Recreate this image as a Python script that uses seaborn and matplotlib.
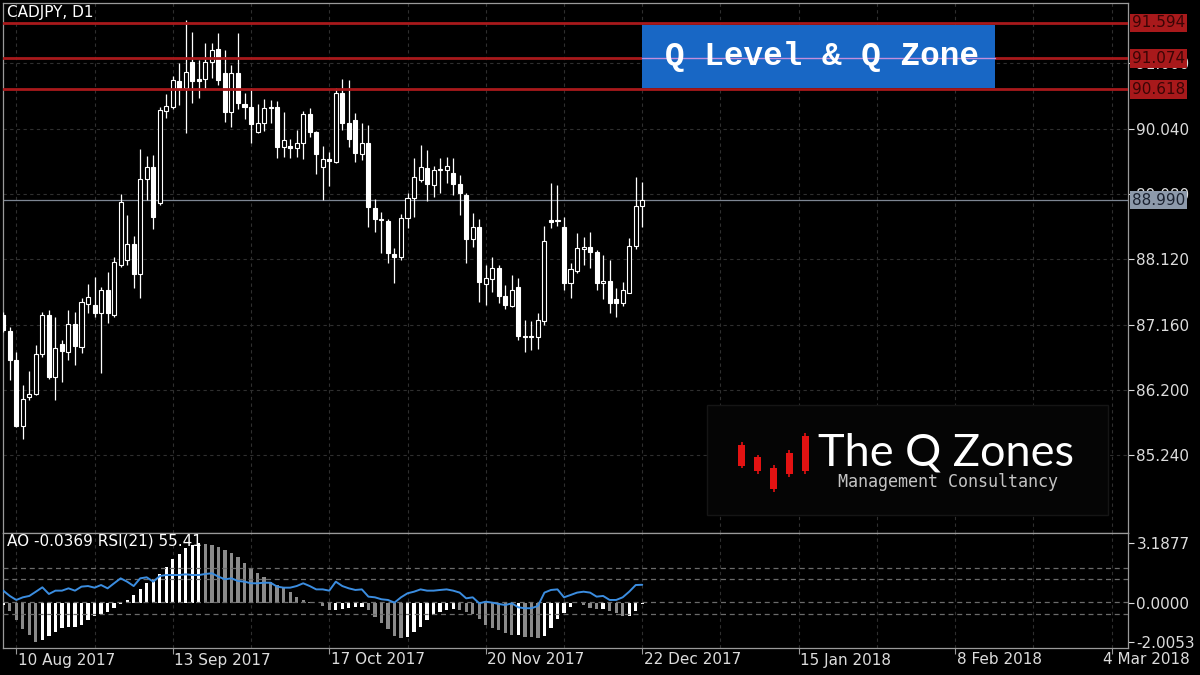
import numpy as np
import pandas as pd
import matplotlib
matplotlib.use("Agg")
import matplotlib.pyplot as plt
import matplotlib.transforms as mtransforms
from matplotlib.patches import Rectangle
import seaborn as sns

# ---------------- data ----------------
symbol_title = "CADJPY, D1"
indicator_title = "AO -0.0369 RSI(21) 55.41"
first_bar = -2  # bar index of the first visible candle (10 Aug 2017 = 0)

opens = [87.300, 87.064, 86.638, 85.667, 86.094, 86.138, 86.726, 87.300, 86.388, 86.873,
         86.756, 87.167, 86.830, 87.462, 87.447, 87.329, 87.667, 87.300, 88.035, 88.109,
         88.339, 87.903, 89.295, 89.471, 88.952, 90.300, 90.363, 90.741, 90.633, 91.025,
         90.770, 90.770, 91.025, 91.207, 90.854, 90.290, 90.854, 90.403, 90.354, 89.986,
         90.118, 90.363, 90.363, 89.765, 89.790, 89.750, 89.834, 90.255, 89.996, 89.481,
         89.589, 89.554, 90.569, 90.118, 90.167, 89.667, 89.834, 88.878, 88.712, 88.687,
         88.197, 88.158, 88.721, 89.025, 89.285, 89.457, 89.211, 89.437, 89.432, 89.383,
         89.221, 89.064, 88.412, 88.589, 87.755, 87.824, 87.986, 87.579, 87.432, 87.716,
         86.986, 86.976, 86.981, 87.216, 88.697, 88.678, 88.599, 87.775, 87.952, 88.265,
         88.305, 88.221, 87.775, 87.805, 87.530, 87.471, 87.628, 88.314, 88.903]
highs = [87.340, 87.128, 86.756, 86.270, 86.476, 86.858, 87.344, 87.373, 87.270, 86.932,
         87.373, 87.344, 87.550, 87.756, 87.859, 87.710, 87.932, 88.153, 89.074, 88.770,
         88.461, 89.736, 89.643, 89.653, 90.363, 90.545, 90.815, 91.000, 91.638, 91.466,
         91.050, 91.295, 91.295, 91.442, 91.197, 90.976, 91.452, 90.560, 90.633, 90.398,
         90.471, 90.461, 90.447, 90.290, 89.883, 90.020, 90.300, 90.339, 90.000, 89.785,
         89.702, 90.633, 90.765, 90.756, 90.275, 90.118, 90.093, 89.000, 88.819, 88.707,
         88.280, 88.785, 89.099, 89.604, 89.800, 89.726, 89.491, 89.604, 89.628, 89.604,
         89.358, 89.099, 88.805, 88.707, 88.035, 88.158, 88.035, 87.741, 87.888, 87.839,
         87.226, 87.216, 87.334, 88.609, 89.236, 89.211, 88.746, 88.060, 88.500, 88.451,
         88.515, 88.256, 88.182, 88.109, 87.692, 87.790, 88.427, 89.324, 89.260]
lows = [87.050, 86.344, 85.650, 85.476, 86.050, 86.120, 86.682, 86.358, 86.050, 86.314,
        86.638, 86.564, 86.740, 87.329, 87.270, 86.447, 87.180, 87.270, 88.010, 88.035,
        87.692, 87.545, 88.991, 88.565, 88.917, 90.202, 90.324, 90.388, 89.981, 90.412,
        90.486, 90.623, 90.780, 90.682, 90.143, 90.070, 90.324, 90.177, 89.834, 89.970,
        90.010, 90.128, 89.613, 89.628, 89.604, 89.628, 89.589, 89.922, 89.368, 88.991,
        89.197, 89.539, 90.020, 89.775, 89.554, 89.579, 88.589, 88.525, 88.207, 88.060,
        87.775, 88.109, 88.574, 88.746, 89.260, 88.981, 89.030, 89.089, 89.236, 89.064,
        88.771, 88.060, 88.295, 87.496, 87.447, 87.643, 87.471, 87.383, 87.422, 86.932,
        86.760, 86.785, 86.795, 87.153, 88.574, 88.609, 87.667, 87.545, 87.912, 88.035,
        87.986, 87.667, 87.530, 87.334, 87.275, 87.432, 87.618, 88.265, 88.599]
closes = [87.080, 86.638, 85.667, 86.064, 86.138, 86.726, 87.300, 86.388, 86.814, 86.770,
          87.167, 86.844, 87.491, 87.564, 87.329, 87.667, 87.329, 88.079, 88.966, 88.339,
          87.903, 89.295, 89.481, 88.746, 90.314, 90.373, 90.756, 90.633, 90.868, 90.746,
          90.746, 91.025, 91.197, 90.756, 90.290, 90.863, 90.412, 90.363, 90.104, 90.118,
          90.349, 90.349, 89.775, 89.873, 89.760, 89.834, 90.255, 89.996, 89.662, 89.589,
          89.564, 90.569, 90.118, 89.883, 89.677, 89.834, 88.883, 88.712, 88.697, 88.207,
          88.148, 88.721, 89.025, 89.324, 89.481, 89.226, 89.432, 89.447, 89.496, 89.226,
          89.099, 88.412, 88.599, 87.790, 87.839, 87.986, 87.579, 87.447, 87.667, 86.991,
          86.976, 86.986, 87.226, 88.393, 88.668, 88.688, 87.775, 87.976, 88.290, 88.305,
          88.231, 87.775, 87.805, 87.471, 87.471, 87.667, 88.319, 88.907, 88.990]

ao_values = [-0.10, -0.40, -0.86, -1.35, -1.65, -2.0053, -1.90, -1.70, -1.47, -1.30,
             -1.25, -1.21, -1.13, -0.86, -0.65, -0.55, -0.43, -0.25, -0.03, 0.18,
             0.44, 0.74, 1.05, 1.27, 1.53, 1.93, 2.31, 2.59, 2.89, 3.06,
             3.1877, 3.12, 3.06, 2.98, 2.80, 2.66, 2.45, 2.14, 1.84, 1.58,
             1.40, 1.14, 0.97, 0.79, 0.62, 0.36, 0.18, 0.10, 0.01, -0.13,
             -0.34, -0.32, -0.31, -0.25, -0.20, -0.17, -0.34, -0.69, -1.04, -1.35,
             -1.70, -1.82, -1.77, -1.47, -1.21, -0.86, -0.60, -0.43, -0.34, -0.31,
             -0.34, -0.43, -0.57, -0.83, -1.13, -1.30, -1.39, -1.56, -1.65, -1.64,
             -1.74, -1.77, -1.82, -1.70, -1.30, -0.83, -0.48, -0.17, 0.05, -0.08,
             -0.25, -0.31, -0.30, -0.37, -0.52, -0.65, -0.63, -0.37, -0.0369]

rsi_values = [50.3, 45.7, 42.2, 44.5, 45.7, 49.4, 53.2, 47.4, 50.3, 50.3,
              52.3, 50.3, 53.8, 54.3, 52.9, 55.2, 52.3, 56.7, 61.0, 58.1,
              54.3, 61.0, 61.9, 58.1, 63.0, 63.9, 63.9, 63.9, 64.5, 63.9,
              63.9, 64.8, 65.4, 62.5, 60.2, 61.0, 58.7, 58.1, 56.7, 56.7,
              57.2, 57.2, 53.8, 52.9, 52.9, 54.3, 56.7, 54.3, 51.4, 51.4,
              50.3, 58.1, 54.3, 52.3, 50.9, 51.4, 45.1, 44.5, 42.8, 42.2,
              39.9, 44.5, 48.0, 49.4, 51.4, 50.3, 50.3, 50.9, 51.4, 50.3,
              48.6, 43.6, 44.5, 39.3, 40.7, 39.9, 38.7, 37.8, 39.3, 35.8,
              35.0, 35.0, 37.0, 48.6, 50.9, 51.4, 44.5, 46.5, 48.6, 49.4,
              48.6, 45.1, 45.7, 42.2, 42.2, 44.5, 49.4, 55.2, 55.41]

price_ticks = [91.000, 90.040, 89.080, 88.120, 87.160, 86.200, 85.240]
ao_ticks = [3.1877, 0.0, -2.0053]
ao_tick_labels = ["3.1877", "0.0000", "-2.0053"]
q_levels = [91.594, 91.074, 90.618]
current_price = 88.990
rsi_levels = [70, 60, 40, 30]
date_tick_bars = [0, 24, 48, 72, 96, 120, 144, 168]
date_tick_labels = ["10 Aug 2017", "13 Sep 2017", "17 Oct 2017", "20 Nov 2017",
                    "22 Dec 2017", "15 Jan 2018", "8 Feb 2018", "4 Mar 2018"]
banner_text = "Q Level & Q Zone"
logo_title = "The Q Zones"
logo_subtitle = "Management Consultancy"
logo_body_low = [29, 24, 6, 21, 24]
logo_body_high = [50, 38, 27, 42, 59]
logo_wick_low = [27, 21, 3, 18, 21]
logo_wick_high = [53, 40, 30, 45, 62]

# ---------------- style ----------------
sns.set_theme(style="dark", rc={"axes.facecolor": "black", "figure.facecolor": "black"})
plt.rcParams["font.family"] = ["DejaVu Sans"]

W, H = 1200, 675
fig = plt.figure(figsize=(12, 6.75), dpi=100, facecolor="black")

def fx(px):
    return px / W

def fy(py):
    return 1 - py / H

ax = fig.add_axes([fx(3), fy(533), fx(1128) - fx(3), fy(3) - fy(533)])
ax2 = fig.add_axes([fx(3), fy(648), fx(1128) - fx(3), fy(533) - fy(648)], sharex=ax)
ax3 = ax2.twinx()

frame_col = "#9a9a9a"
label_col = "#dcdcdc"
grid_col = "#2f2f2f"
tick_fs = 11

for a in (ax, ax2):
    a.set_facecolor("black")
    for s in a.spines.values():
        s.set_color(frame_col)
        s.set_linewidth(0.9)
    a.grid(False)

df = pd.DataFrame({"bar": np.arange(first_bar, first_bar + len(opens)),
                   "open": opens, "high": highs, "low": lows, "close": closes,
                   "ao": ao_values, "rsi": rsi_values})

ax.set_xlim(-2.04, 170.5)
ax.set_ylim(84.094, 91.888)

# grid
for b in range(0, 170, 12):
    ax.axvline(b, color=grid_col, lw=0.8, ls=(0, (3, 3)), zorder=1)
    ax2.axvline(b, color=grid_col, lw=0.8, ls=(0, (3, 3)), zorder=1)
for p in price_ticks:
    ax.axhline(p, color=grid_col, lw=0.8, ls=(0, (3, 3)), zorder=1)

# candles
bull = df["close"] >= df["open"]
ax.vlines(df["bar"], df["low"], df["high"], color="white", lw=0.9, zorder=3)
body_bottom = np.minimum(df["open"], df["close"])
body_h = np.maximum((df["close"] - df["open"]).abs(), 0.015)
ax.bar(df["bar"][bull], body_h[bull], bottom=body_bottom[bull], width=0.62,
       facecolor="black", edgecolor="white", linewidth=0.8, zorder=4)
ax.bar(df["bar"][~bull], body_h[~bull], bottom=body_bottom[~bull], width=0.62,
       facecolor="white", edgecolor="white", linewidth=0.8, zorder=4)

# current price line
ax.axhline(current_price, color="#7d8693", lw=0.9, zorder=2)
# Q levels
for lvl in q_levels:
    ax.axhline(lvl, color="#a8191b", lw=2.0, zorder=5)

# right axis ticks
ax.yaxis.tick_right()
ax.set_yticks(price_ticks)
ax.set_yticklabels([f"{p:.3f}" for p in price_ticks])
ax.tick_params(axis="y", colors=label_col, labelsize=tick_fs, length=4, width=0.8,
               direction="out", pad=2, right=True, left=False, labelright=True, labelleft=False)
ax.tick_params(axis="x", bottom=False, labelbottom=False, length=0)

# label boxes on the right
for lvl in q_levels:
    ax.annotate(f"{lvl:.3f}", xy=(1, lvl), xycoords=("axes fraction", "data"),
                xytext=(3, 0), textcoords="offset points", ha="left", va="center",
                fontsize=tick_fs, color="#3a0505", zorder=20, annotation_clip=False,
                bbox=dict(boxstyle="square,pad=0.12", fc="#a8191b", ec="none"))
ax.annotate(f"{current_price:.3f}", xy=(1, current_price), xycoords=("axes fraction", "data"),
            xytext=(3, 0), textcoords="offset points", ha="left", va="center",
            fontsize=tick_fs, color="#1b2230", zorder=20, annotation_clip=False,
            bbox=dict(boxstyle="square,pad=0.12", fc="#8d9aab", ec="none"))

# title
fig.text(fx(7), fy(13), symbol_title, ha="left", va="center", fontsize=11, color="white")

# banner
ax.add_patch(Rectangle((fx(642), fy(88)), fx(995) - fx(642), fy(25) - fy(88),
                       transform=fig.transFigure, fc="#1867c5", ec="none", zorder=10,
                       clip_on=False))
btrans = mtransforms.blended_transform_factory(fig.transFigure, ax.transData)
ax.plot([fx(642), fx(995)], [q_levels[1], q_levels[1]], transform=btrans,
        color="#c48fdc", lw=1.0, zorder=11, clip_on=False)
ax.text(fx(822), fy(57), banner_text, transform=fig.transFigure, ha="center", va="center",
        fontfamily="Liberation Mono", fontweight="bold", fontsize=23.5, color="white", zorder=12)

# lower panel: AO histogram
ao_arr = df["ao"].to_numpy()
rising = np.r_[True, ao_arr[1:] > ao_arr[:-1]]
ao_colors = np.where(rising, "#ffffff", "#8a8a8a")
ax2.bar(df["bar"], df["ao"], width=0.5, color=ao_colors, edgecolor="none", zorder=3)
ax2.set_ylim(-2.33, 3.691)
ax2.set_xticks(date_tick_bars)
ax2.set_xticklabels([])
ax2.tick_params(axis="x", colors=frame_col, length=4, width=0.8, direction="out",
                bottom=True, labelbottom=False)
ax2.set_xlim(-2.04, 170.5)

# RSI on twin axis
ax3.set_ylim(0.43, 100.43)
for lvl in rsi_levels:
    ax3.axhline(lvl, color="#6b6b6b", lw=0.9, ls=(0, (4, 3)), zorder=2)
sns.lineplot(x=df["bar"], y=df["rsi"], ax=ax3, color="#3b8de0", lw=1.4, zorder=4)
ax3.set_yticks([])
ax3.tick_params(axis="y", left=False, right=False, labelleft=False, labelright=False)
ax3.set_ylabel("")
ax3.set_xlabel("")
for s in ax3.spines.values():
    s.set_visible(False)
ax3.grid(False)

# AO axis labels on the right (after twinx)
ax2.yaxis.tick_right()
ax2.set_yticks(ao_ticks)
ax2.set_yticklabels(ao_tick_labels)
ax2.tick_params(axis="y", colors=label_col, labelsize=tick_fs, length=4, width=0.8,
                direction="out", pad=2, right=True, left=False, labelright=True, labelleft=False)
ax2.set_xlabel("")
ax2.set_ylabel("")
ax.set_xlabel("")
ax.set_ylabel("")

fig.text(fx(7), fy(541), indicator_title, ha="left", va="center", fontsize=11, color="white")

# date labels
for b, lab in zip(date_tick_bars, date_tick_labels):
    off = 1.5 if b != date_tick_bars[-1] else -9
    ax2.annotate(lab, xy=(b, 0), xycoords=("data", "axes fraction"),
                 xytext=(off, -12), textcoords="offset pixels", ha="left", va="center",
                 fontsize=tick_fs, color=label_col, annotation_clip=False)

# logo
logo_box = Rectangle((fx(707), fy(515)), fx(1108) - fx(707), fy(405) - fy(515),
                     transform=fig.transFigure, fc="#050505", ec="#151515", lw=1, zorder=1)
fig.patches.append(logo_box)
axl = fig.add_axes([fx(734), fy(495), fx(813) - fx(734), fy(430) - fy(495)])
axl.set_zorder(5)
axl.patch.set_visible(False)
axl.set_xlim(-0.5, 4.5)
axl.set_ylim(0, 65)
axl.axis("off")
xs = np.arange(len(logo_body_low))
axl.vlines(xs, logo_wick_low, logo_wick_high, color="#e31212", lw=1.2)
axl.bar(xs, np.array(logo_body_high) - np.array(logo_body_low), bottom=logo_body_low,
        width=0.45, color="#e31212", edgecolor="none")
fig.text(fx(818), fy(465), logo_title, ha="left", va="baseline", fontsize=32.5,
         fontfamily="Lato", fontweight="normal", color="white", zorder=6)
fig.text(fx(948), fy(487), logo_subtitle, ha="center", va="baseline", fontsize=12,
         fontfamily="DejaVu Sans Mono", color="#c4c4c4", zorder=6)

fig.savefig("out.png", dpi=100, facecolor="black")
